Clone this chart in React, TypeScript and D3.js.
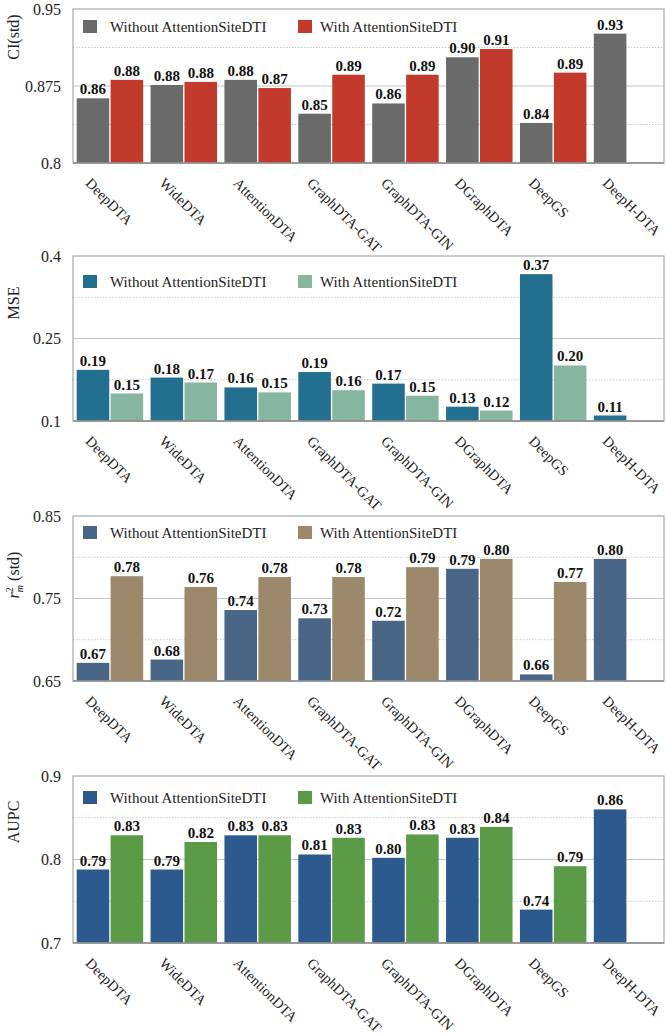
import * as d3 from "d3";
import type { ReactNode } from "react";

const methods = [
  "DeepDTA",
  "WideDTA",
  "AttentionDTA",
  "GraphDTA-GAT",
  "GraphDTA-GIN",
  "DGraphDTA",
  "DeepGS",
  "DeepH-DTA",
];
const seriesNames = ["Without AttentionSiteDTI", "With AttentionSiteDTI"];

const ciWithout = [0.863, 0.876, 0.881, 0.848, 0.858, 0.903, 0.839, 0.926];
const ciWith = [0.881, 0.879, 0.873, 0.886, 0.886, 0.911, 0.888, null];
const ciTicks = ["0.8", "0.875", "0.95"];

const mseWithout = [0.193, 0.179, 0.161, 0.189, 0.168, 0.126, 0.367, 0.11];
const mseWith = [0.15, 0.17, 0.152, 0.156, 0.146, 0.119, 0.201, null];
const mseTicks = ["0.1", "0.25", "0.4"];

const r2Without = [0.672, 0.676, 0.736, 0.726, 0.723, 0.786, 0.658, 0.798];
const r2With = [0.777, 0.764, 0.776, 0.776, 0.788, 0.798, 0.77, null];
const r2Ticks = ["0.65", "0.75", "0.85"];

const aupcWithout = [0.788, 0.788, 0.829, 0.806, 0.802, 0.826, 0.74, 0.86];
const aupcWith = [0.829, 0.821, 0.829, 0.826, 0.83, 0.839, 0.792, null];
const aupcTicks = ["0.7", "0.8", "0.9"];

const FONT = "'Liberation Serif', 'Times New Roman', serif";
const LEFT = 73;
const RIGHT = 664;
const fmt = d3.format(".2f");

type PanelProps = {
  top: number;
  bottom: number;
  ticks: string[];
  without: (number | null)[];
  withA: (number | null)[];
  colors: string[];
  title: ReactNode;
  titleY: number;
  legendY: number;
};

const Panel = ({ top, bottom, ticks, without, withA, colors, title, titleY, legendY }: PanelProps) => {
  const tickVals = ticks.map(Number);
  const y = d3.scaleLinear().domain([tickVals[0], tickVals[2]]).range([bottom, top]);
  const x = d3.scaleBand().domain(methods).range([LEFT, RIGHT]).paddingInner(0.1).paddingOuter(0.05);
  const xSub = d3.scaleBand<number>().domain([0, 1]).range([0, x.bandwidth()]).paddingInner(0.04);
  // minor dotted lines halfway between ticks
  const minor = [(tickVals[0] + tickVals[1]) / 2, (tickVals[1] + tickVals[2]) / 2];
  const series = [without, withA];

  return (
    <g>
      {minor.map((m) => (
        <line key={m} x1={LEFT} x2={RIGHT} y1={y(m)} y2={y(m)} stroke="#c8c8c8" strokeDasharray="1.5,1.5" />
      ))}
      <line x1={LEFT} x2={RIGHT} y1={y(tickVals[1])} y2={y(tickVals[1])} stroke="#c4c4c4" strokeWidth={1.2} />
      {ticks.map((t, i) => (
        <text
          key={t}
          x={61}
          y={y(tickVals[i])}
          dy="0.35em"
          textAnchor="end"
          fontSize={16}
          fontFamily={FONT}
          fill="#222"
        >
          {t}
        </text>
      ))}
      <text
        transform={`translate(19,${titleY}) rotate(-90)`}
        textAnchor="middle"
        fontSize={16}
        fontFamily={FONT}
        fill="#222"
      >
        {title}
      </text>

      {series.map((vals, s) =>
        vals.map((v, i) => {
          if (v == null) return null;
          const bx = (x(methods[i]) || 0) + (xSub(s) || 0);
          return (
            <g key={`${s}-${i}`}>
              <rect x={bx} y={y(v)} width={xSub.bandwidth()} height={bottom - y(v)} fill={colors[s]} />
              <text
                x={bx + xSub.bandwidth() / 2}
                y={y(v) - 4}
                textAnchor="middle"
                fontSize={15}
                fontWeight="bold"
                fontFamily={FONT}
                fill="#111"
              >
                {fmt(v)}
              </text>
            </g>
          );
        })
      )}

      <rect x={LEFT} y={top} width={RIGHT - LEFT} height={bottom - top} fill="none" stroke="#a8a8a8" strokeWidth={1.2} />
      <line x1={LEFT} x2={RIGHT} y1={bottom} y2={bottom} stroke="#8a8a8a" strokeWidth={1.3} />

      {methods.map((m) => (
        <text
          key={m}
          transform={`translate(${(x(m) || 0) + 8},${bottom + 21}) rotate(45)`}
          fontSize={14.5}
          fontFamily={FONT}
          fill="#222"
        >
          {m}
        </text>
      ))}

      {seriesNames.map((name, s) => {
        const lx = s === 0 ? 83 : 298;
        return (
          <g key={name}>
            <rect x={lx} y={legendY} width={14} height={13} fill={colors[s]} />
            <text x={lx + (s === 0 ? 27 : 22)} y={legendY + 11.5} fontSize={15} fontFamily={FONT} fill="#222">
              {name}
            </text>
          </g>
        );
      })}
    </g>
  );
};

export default function App() {
  return (
    <svg
      width={666}
      height={1036}
      style={{ position: "absolute", left: 0, top: 0, background: "#fff" }}
    >
      <rect width={666} height={1036} fill="#fff" />
      <Panel
        top={9}
        bottom={163}
        ticks={ciTicks}
        without={ciWithout}
        withA={ciWith}
        colors={["#6a6a6a", "#c13a2c"]}
        title="CI(std)"
        titleY={37}
        legendY={20}
      />
      <Panel
        top={256}
        bottom={421}
        ticks={mseTicks}
        without={mseWithout}
        withA={mseWith}
        colors={["#236f90", "#86b5a0"]}
        title="MSE"
        titleY={303}
        legendY={275}
      />
      <Panel
        top={516}
        bottom={681}
        ticks={r2Ticks}
        without={r2Without}
        withA={r2With}
        colors={["#4a6686", "#9c886a"]}
        title={
          <>
            <tspan fontStyle="italic">r</tspan>
            <tspan fontSize={10} dy={-6}>2</tspan>
            <tspan fontSize={10} fontStyle="italic" dx={-5} dy={10}>m</tspan>
            <tspan dy={-4}> (std)</tspan>
          </>
        }
        titleY={575}
        legendY={526}
      />
      <Panel
        top={776}
        bottom={943}
        ticks={aupcTicks}
        without={aupcWithout}
        withA={aupcWith}
        colors={["#2d5a8e", "#5b9a47"]}
        title="AUPC"
        titleY={822}
        legendY={791}
      />
    </svg>
  );
}
